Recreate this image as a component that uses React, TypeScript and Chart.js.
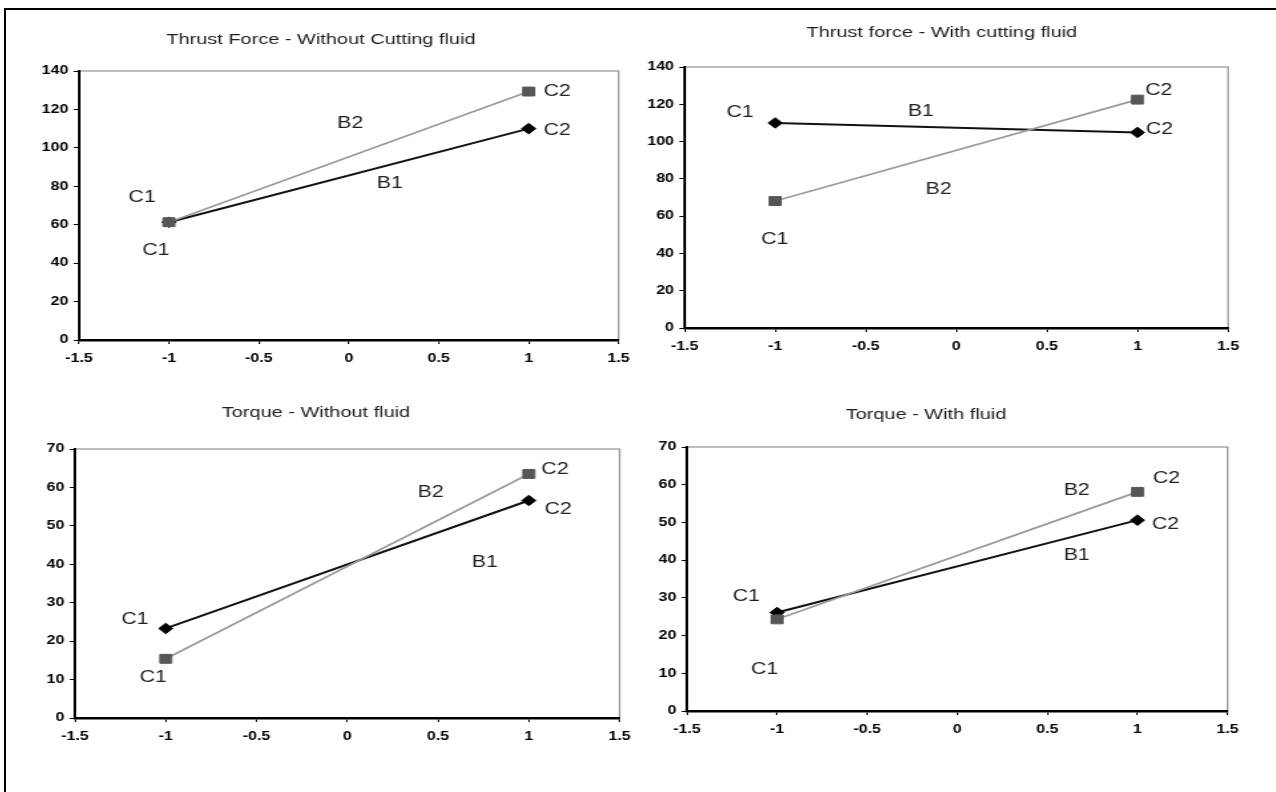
import React, { useEffect, useRef } from "react";
import { Chart, registerables } from "chart.js";

Chart.register(...registerables);

// ---------- data ----------
const X_LEVELS = [-1, 1];
const X_TICKS = [-1.5, -1, -0.5, 0, 0.5, 1, 1.5];
const FORCE_TICKS = [0, 20, 40, 60, 80, 100, 120, 140];
const TORQUE_TICKS = [0, 10, 20, 30, 40, 50, 60, 70];

const THRUST_DRY_B1 = [61.3, 110];
const THRUST_DRY_B2 = [61.3, 129.3];
const THRUST_WET_B1 = [110, 104.9];
const THRUST_WET_B2 = [68.1, 122.5];
const TORQUE_DRY_B1 = [23.3, 56.6];
const TORQUE_DRY_B2 = [15.4, 63.5];
const TORQUE_WET_B1 = [26.1, 50.6];
const TORQUE_WET_B2 = [24.3, 58.1];

const TITLES = [
  "Thrust Force - Without Cutting fluid",
  "Thrust force - With cutting fluid",
  "Torque - Without fluid",
  "Torque - With fluid",
];

// annotation texts anchored in data units
const THRUST_DRY_LABELS = [
  { text: "C2", x: 1.158, y: 129.3 },
  { text: "C2", x: 1.158, y: 108.9 },
  { text: "B2", x: 0.008, y: 112.4 },
  { text: "B1", x: 0.228, y: 81.6 },
  { text: "C1", x: -1.149, y: 74.3 },
  { text: "C1", x: -1.072, y: 46.7 },
];
const THRUST_WET_LABELS = [
  { text: "C1", x: -1.194, y: 115.5 },
  { text: "B1", x: -0.196, y: 116 },
  { text: "C2", x: 1.117, y: 127.3 },
  { text: "C2", x: 1.121, y: 106.2 },
  { text: "B2", x: -0.098, y: 74 },
  { text: "C1", x: -1.003, y: 47.2 },
];
const TORQUE_DRY_LABELS = [
  { text: "C2", x: 1.144, y: 64.7 },
  { text: "C2", x: 1.162, y: 54.3 },
  { text: "B2", x: 0.459, y: 58.6 },
  { text: "B1", x: 0.758, y: 40.4 },
  { text: "C1", x: -1.17, y: 25.7 },
  { text: "C1", x: -1.069, y: 10.6 },
];
const TORQUE_WET_LABELS = [
  { text: "C2", x: 1.161, y: 61.7 },
  { text: "C2", x: 1.156, y: 49.3 },
  { text: "B2", x: 0.663, y: 58.4 },
  { text: "B1", x: 0.663, y: 41.1 },
  { text: "C1", x: -1.171, y: 30.3 },
  { text: "C1", x: -1.069, y: 10.9 },
];

// ---------- layout / style ----------
const S = 1.33; // horizontal stretch of the scanned figure
const FAMILY = '"Liberation Sans", Arial, Helvetica, sans-serif';
const TITLE_SIZE = 15;
const LH = TITLE_SIZE * 1.2;
const XH = 34;
const PAD_BOTTOM = 4;
const MIN_YW = 38;

const PANELS = [
  { L: 79, R: 620, T: 71, B: 340, titleX: 321, titleY: 40, title: TITLES[0], yMax: 140, yTicks: FORCE_TICKS, b1: THRUST_DRY_B1, b2: THRUST_DRY_B2, labels: THRUST_DRY_LABELS },
  { L: 685, R: 1228, T: 67, B: 328, titleX: 942, titleY: 33, title: TITLES[1], yMax: 140, yTicks: FORCE_TICKS, b1: THRUST_WET_B1, b2: THRUST_WET_B2, labels: THRUST_WET_LABELS },
  { L: 75, R: 621, T: 449, B: 718, titleX: 316, titleY: 413, title: TITLES[2], yMax: 70, yTicks: TORQUE_TICKS, b1: TORQUE_DRY_B1, b2: TORQUE_DRY_B2, labels: TORQUE_DRY_LABELS },
  { L: 687, R: 1229, T: 447, B: 711, titleX: 926, titleY: 415, title: TITLES[3], yMax: 70, yTicks: TORQUE_TICKS, b1: TORQUE_WET_B1, b2: TORQUE_WET_B2, labels: TORQUE_WET_LABELS },
];

function computeLayout(p: any) {
  const YW0 = (p.L + p.R - 2 * p.titleX) / S;
  const W2 = Math.max(0, MIN_YW - YW0); // invisible right box keeps the title centred where it was
  const YW = YW0 + W2;
  const CL = p.L - S * YW;
  const r = (p.R - CL) / S;
  const IW = Math.ceil(r + W2 + 14);
  const padR = IW - r - W2;
  const CT = Math.round(p.titleY - 4 - LH / 2);
  const tPadTop = p.titleY - LH / 2 - CT;
  const tPadBottom = p.T - p.titleY - LH / 2;
  const CH = Math.round(p.B - CT + XH + PAD_BOTTOM);
  return { YW, W2, CL, padR, IW, CT, CH, tPadTop, tPadBottom };
}

const frameBox = {
  id: "frameBox",
  beforeDraw(chart: any) {
    const { ctx, chartArea: a } = chart;
    ctx.save();
    ctx.strokeStyle = "#9c9c9c";
    ctx.lineWidth = 1.3;
    ctx.strokeRect(a.left, a.top, a.right - a.left, a.bottom - a.top);
    ctx.restore();
  },
};

function makeLabelPlugin(items: any[]) {
  return {
    id: "pointLabels",
    afterDatasetsDraw(chart: any) {
      const { ctx } = chart;
      const xs = chart.scales.x;
      const ys = chart.scales.y;
      ctx.save();
      ctx.font = `16px ${FAMILY}`;
      ctx.fillStyle = "#222222";
      ctx.textAlign = "center";
      ctx.textBaseline = "middle";
      for (const it of items) {
        ctx.fillText(it.text, xs.getPixelForValue(it.x), ys.getPixelForValue(it.y));
      }
      ctx.restore();
    },
  };
}

function Panel({ p }: { p: any }) {
  const ref = useRef<HTMLCanvasElement | null>(null);
  const lay = computeLayout(p);

  useEffect(() => {
    if (!ref.current) return;
    const tickFont = { family: FAMILY, size: 12, weight: "bold" as const };
    const chart = new Chart(ref.current, {
      type: "line",
      data: {
        datasets: [
          {
            label: "B2",
            data: X_LEVELS.map((x, i) => ({ x, y: p.b2[i] })),
            borderColor: "#9a9a9a",
            borderWidth: 1.7,
            pointStyle: "rect",
            pointRadius: 6.3,
            pointBackgroundColor: "#575757",
            pointBorderColor: "#575757",
            pointBorderWidth: 1,
            tension: 0,
          },
          {
            label: "B1",
            data: X_LEVELS.map((x, i) => ({ x, y: p.b1[i] })),
            borderColor: "#111111",
            borderWidth: 2,
            pointStyle: "rectRot",
            pointRadius: 5.3,
            pointBackgroundColor: "#000000",
            pointBorderColor: "#000000",
            pointBorderWidth: 1,
            tension: 0,
          },
        ],
      },
      options: {
        animation: false,
        responsive: false,
        devicePixelRatio: 1,
        events: [],
        layout: { padding: { left: 0, right: lay.padR, top: 0, bottom: PAD_BOTTOM } },
        plugins: {
          legend: { display: false },
          tooltip: { enabled: false },
          title: {
            display: true,
            text: p.title,
            color: "#1e1e1e",
            font: { family: FAMILY, size: TITLE_SIZE, weight: "normal", lineHeight: 1.2 },
            padding: { top: lay.tPadTop, bottom: lay.tPadBottom },
          },
        },
        scales: {
          x: {
            type: "linear",
            min: -1.5,
            max: 1.5,
            afterBuildTicks: (s: any) => {
              s.ticks = X_TICKS.map((v) => ({ value: v }));
            },
            afterFit: (s: any) => {
              s.height = XH;
            },
            grid: { drawOnChartArea: false, drawTicks: true, tickLength: 4, color: "#000", lineWidth: 1 },
            border: { display: true, color: "#000", width: 2.5 },
            ticks: {
              font: tickFont,
              color: "#000",
              padding: 7,
              autoSkip: false,
              maxRotation: 0,
              callback: (v: any) => String(v),
            },
          },
          y: {
            type: "linear",
            position: "left",
            min: 0,
            max: p.yMax,
            afterBuildTicks: (s: any) => {
              s.ticks = p.yTicks.map((v: number) => ({ value: v }));
            },
            afterFit: (s: any) => {
              s.width = lay.YW;
            },
            grid: { drawOnChartArea: false, drawTicks: true, tickLength: 4, color: "#000", lineWidth: 1 },
            border: { display: true, color: "#000", width: 2 },
            ticks: {
              font: tickFont,
              color: "#000",
              padding: 4,
              autoSkip: false,
              callback: (v: any) => String(v),
            },
          },
          yRight: {
            type: "linear",
            position: "right",
            min: 0,
            max: p.yMax,
            display: lay.W2 > 0,
            afterFit: (s: any) => {
              s.width = lay.W2;
            },
            grid: { display: false, drawTicks: false },
            border: { display: false },
            ticks: { display: false },
          },
        },
      },
      plugins: [frameBox, makeLabelPlugin(p.labels)],
    } as any);
    return () => chart.destroy();
  }, []);

  return (
    <canvas
      ref={ref}
      width={lay.IW}
      height={lay.CH}
      style={{
        position: "absolute",
        left: `${lay.CL}px`,
        top: `${lay.CT}px`,
        width: `${lay.IW * S}px`,
        height: `${lay.CH}px`,
      }}
    />
  );
}

export default function App() {
  return (
    <div
      style={{
        position: "absolute",
        left: 0,
        top: 0,
        width: 1276,
        height: 792,
        background: "#fff",
        overflow: "hidden",
      }}
    >
      <div
        style={{
          position: "absolute",
          left: 4,
          top: 8,
          width: 1280,
          height: 800,
          borderTop: "2px solid #000",
          borderLeft: "2px solid #000",
        }}
      />
      {PANELS.map((p, i) => (
        <Panel key={i} p={p} />
      ))}
    </div>
  );
}
